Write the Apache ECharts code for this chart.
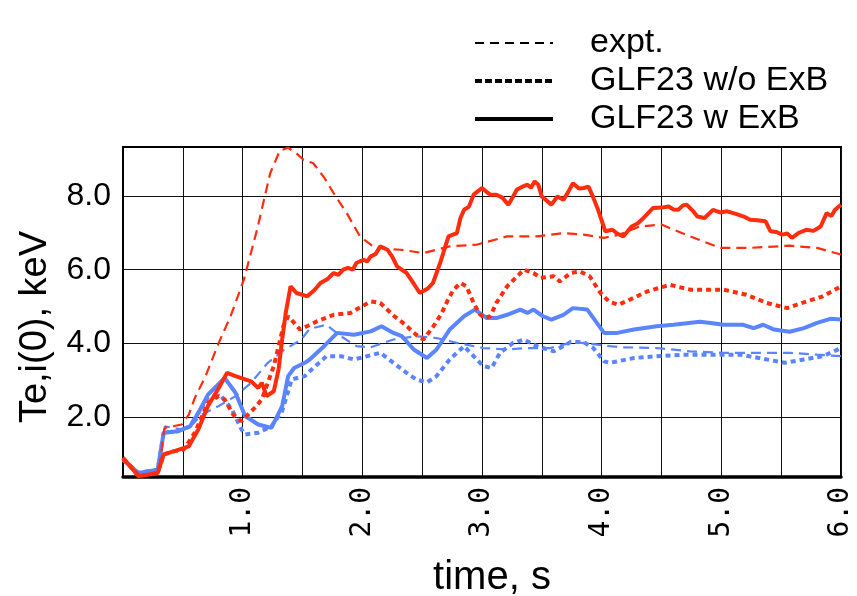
<!DOCTYPE html>
<html>
<head>
<meta charset="utf-8">
<script src="https://cdn.jsdelivr.net/npm/echarts@6/dist/echarts.min.js"></script>
<style>
  html, body { margin: 0; padding: 0; background: #fff; }
  #chart { width: 857px; height: 596px; }
</style>
</head>
<body>
<div id="chart"></div>
<script>
// Central temperatures vs time: [time (s), T (keV)]
// Electron temperature (red)
const teExpt = [[0,0.85],[0.1,0.55],[0.15,0.42],[0.3,0.5],[0.34,1.6],[0.35,1.72],[0.49,1.81],[0.55,2.08],[0.6,2.53],[0.69,3.12],[0.8,4.02],[0.9,4.75],[1.01,5.73],[1.12,7.08],[1.23,8.61],[1.31,9.22],[1.38,9.3],[1.45,9.15],[1.51,8.97],[1.59,8.88],[1.68,8.5],[1.76,8.07],[1.87,7.53],[1.98,6.9],[2.09,6.63],[2.2,6.56],[2.32,6.54],[2.51,6.45],[2.73,6.63],[2.96,6.68],[3.21,6.9],[3.46,6.9],[3.68,6.99],[3.85,6.95],[4.02,6.86],[4.15,6.95],[4.32,7.17],[4.5,7.22],[4.74,6.9],[4.99,6.59],[5.24,6.59],[5.57,6.65],[5.8,6.59],[6.0,6.41]];
const teNoExb = [[0,0.9],[0.13,0.42],[0.29,0.5],[0.34,1.0],[0.43,1.09],[0.51,1.14],[0.6,1.59],[0.71,2.4],[0.8,2.58],[0.85,2.49],[0.92,2.08],[0.99,1.9],[1.1,2.26],[1.16,2.49],[1.26,3.39],[1.34,4.47],[1.38,4.74],[1.48,4.38],[1.62,4.6],[1.76,4.78],[1.9,4.83],[2.07,5.14],[2.15,5.1],[2.26,4.76],[2.34,4.56],[2.45,4.24],[2.51,4.11],[2.59,4.45],[2.66,4.8],[2.71,5.15],[2.76,5.45],[2.82,5.64],[2.87,5.55],[2.93,5.1],[2.98,4.8],[3.02,4.69],[3.07,4.74],[3.12,5.1],[3.21,5.55],[3.35,6.0],[3.43,5.91],[3.49,5.78],[3.6,5.82],[3.65,5.68],[3.74,5.91],[3.82,5.95],[3.9,5.82],[3.99,5.37],[4.06,5.14],[4.14,5.05],[4.27,5.24],[4.38,5.41],[4.57,5.59],[4.74,5.46],[5.02,5.46],[5.21,5.32],[5.38,5.1],[5.55,4.96],[5.71,5.14],[5.85,5.28],[6.0,5.55]];
const teExb = [[0,0.91],[0.13,0.41],[0.29,0.5],[0.34,1.0],[0.43,1.09],[0.55,1.22],[0.63,1.68],[0.71,2.31],[0.8,2.8],[0.87,3.21],[0.94,3.12],[1.07,2.98],[1.13,2.8],[1.16,2.94],[1.2,2.58],[1.26,2.71],[1.3,3.3],[1.33,4.11],[1.36,4.83],[1.4,5.55],[1.45,5.37],[1.54,5.28],[1.6,5.45],[1.65,5.64],[1.71,5.75],[1.76,5.91],[1.8,5.86],[1.84,6.0],[1.88,6.05],[1.92,6.0],[1.95,6.18],[2.01,6.27],[2.04,6.22],[2.07,6.36],[2.11,6.42],[2.15,6.63],[2.21,6.54],[2.25,6.35],[2.29,6.09],[2.37,5.91],[2.43,5.62],[2.48,5.37],[2.55,5.5],[2.59,5.64],[2.65,6.18],[2.72,6.9],[2.79,6.99],[2.82,7.4],[2.85,7.62],[2.89,7.7],[2.93,8.03],[3.0,8.21],[3.04,8.1],[3.07,8.03],[3.12,8.03],[3.17,7.95],[3.22,7.76],[3.26,7.98],[3.29,8.16],[3.34,8.25],[3.38,8.3],[3.41,8.22],[3.44,8.39],[3.47,8.3],[3.5,7.98],[3.58,7.76],[3.63,7.98],[3.68,7.89],[3.72,8.1],[3.76,8.34],[3.81,8.2],[3.85,8.21],[3.89,8.25],[3.93,7.95],[3.97,7.62],[4.03,7.04],[4.09,7.08],[4.13,6.98],[4.18,6.9],[4.25,7.17],[4.3,7.25],[4.35,7.4],[4.43,7.67],[4.5,7.68],[4.56,7.71],[4.6,7.63],[4.64,7.62],[4.68,7.74],[4.71,7.76],[4.76,7.6],[4.8,7.44],[4.86,7.4],[4.93,7.62],[4.99,7.55],[5.05,7.58],[5.1,7.53],[5.14,7.49],[5.2,7.42],[5.24,7.35],[5.3,7.34],[5.37,7.31],[5.41,7.04],[5.46,7.02],[5.51,6.95],[5.55,6.98],[5.59,6.86],[5.65,7.0],[5.71,7.08],[5.77,7.05],[5.83,7.17],[5.88,7.53],[5.92,7.45],[5.95,7.62],[6.0,7.76]];
// Ion temperature (blue)
const tiExpt = [[0,0.85],[0.13,0.48],[0.29,0.56],[0.34,1.6],[0.35,1.76],[0.49,1.68],[0.55,1.72],[0.66,2.08],[0.8,2.31],[0.94,2.58],[1.07,2.94],[1.21,3.48],[1.35,3.84],[1.49,4.11],[1.56,4.4],[1.7,4.51],[1.82,4.2],[1.95,3.93],[2.07,3.9],[2.26,4.11],[2.45,4.2],[2.62,4.15],[2.79,4.02],[3.01,3.88],[3.21,3.84],[3.38,3.88],[3.57,3.88],[3.74,4.02],[3.85,4.02],[4.07,3.93],[4.18,3.9],[4.46,3.88],[4.74,3.79],[5.02,3.75],[5.3,3.75],[5.57,3.75],[5.8,3.7],[6.0,3.66]];
const tiNoExb = [[0,0.86],[0.13,0.5],[0.29,0.59],[0.34,1.59],[0.46,1.63],[0.56,1.76],[0.63,2.13],[0.71,2.55],[0.82,2.58],[0.91,2.22],[0.99,1.68],[1.02,1.54],[1.13,1.59],[1.24,1.76],[1.33,2.17],[1.41,3.03],[1.52,3.12],[1.56,3.25],[1.7,3.66],[1.82,3.66],[1.93,3.57],[2.04,3.66],[2.15,3.75],[2.26,3.48],[2.37,3.21],[2.45,3.03],[2.54,2.95],[2.62,3.12],[2.73,3.57],[2.85,3.93],[2.93,3.66],[3.01,3.39],[3.08,3.34],[3.15,3.75],[3.26,4.02],[3.35,4.11],[3.46,3.93],[3.6,3.79],[3.74,4.04],[3.85,4.04],[3.93,3.88],[4.02,3.52],[4.07,3.48],[4.27,3.61],[4.46,3.66],[4.68,3.7],[4.96,3.7],[5.16,3.7],[5.35,3.59],[5.53,3.48],[5.69,3.57],[5.85,3.66],[6.0,3.88]];
const tiExb = [[0,0.86],[0.13,0.5],[0.29,0.59],[0.34,1.59],[0.46,1.63],[0.56,1.76],[0.63,2.13],[0.71,2.62],[0.85,3.07],[0.94,2.67],[1.02,2.04],[1.13,1.81],[1.24,1.72],[1.33,2.31],[1.38,3.12],[1.43,3.34],[1.52,3.48],[1.56,3.57],[1.68,3.93],[1.79,4.29],[1.93,4.24],[2.07,4.33],[2.16,4.47],[2.26,4.29],[2.33,4.2],[2.43,3.84],[2.54,3.61],[2.62,3.84],[2.73,4.38],[2.85,4.74],[2.94,4.92],[3.04,4.69],[3.12,4.69],[3.21,4.78],[3.32,4.92],[3.38,4.83],[3.43,4.92],[3.51,4.74],[3.58,4.65],[3.68,4.78],[3.76,4.96],[3.88,4.92],[3.96,4.56],[4.02,4.29],[4.13,4.29],[4.27,4.38],[4.46,4.47],[4.6,4.51],[4.82,4.59],[4.91,4.56],[5.02,4.51],[5.18,4.51],[5.27,4.42],[5.35,4.51],[5.44,4.38],[5.57,4.32],[5.69,4.42],[5.8,4.56],[5.91,4.67],[6.0,4.65]];

const yTicks = [2, 4, 6, 8];
const xLabelTicks = [1, 2, 3, 4, 5, 6];
const legendNames = ['expt.', 'GLF23 w/o ExB', 'GLF23 w ExB'];

const RED = '#ff2d0d';
const BLUE = '#5a85ff';
const DASHED = { width: 2.2, type: [10, 6] };
const DOTTED = { width: 4, type: [5, 4] };
const SOLID = { width: 4, type: 'solid' };
// black key samples shown next to the legend texts
const KEY_STYLES = [
  { width: 2, type: [9, 6] },
  { width: 4, type: [7, 3] },
  { width: 4, type: 'solid' }
];

function curve(name, data, color, style) {
  return {
    name, type: 'line', data, symbol: 'none', sampling: 'none',
    lineStyle: Object.assign({ color }, style),
    silent: true, z: 3
  };
}
function legendSeries(name, style) {
  return {
    name, type: 'line', data: [], symbol: 'none',
    lineStyle: Object.assign({ color: '#000' }, style),
    itemStyle: { color: '#000' }
  };
}

const chart = echarts.init(document.getElementById('chart'));
chart.setOption({
  animation: false,
  backgroundColor: '#fff',
  grid: {
    left: 123, right: 16, top: 147, bottom: 119,
    outerBoundsMode: 'none', containLabel: false,
    show: true, borderColor: '#000', borderWidth: 2, backgroundColor: 'transparent'
  },
  legend: {
    data: legendNames.map((name, i) => ({
      name,
      lineStyle: Object.assign({ color: '#000' }, KEY_STYLES[i])
    })),
    orient: 'vertical',
    left: 473, top: 26, padding: 0,
    itemWidth: 78, itemHeight: 14, itemGap: 4,
    selectedMode: false,
    itemStyle: { opacity: 0 },
    textStyle: { fontFamily: 'Liberation Sans', fontSize: 34, color: '#000', padding: [0, 0, 0, 32] }
  },
  xAxis: {
    type: 'value', min: 0, max: 6, interval: 0.5,
    name: 'time, s', nameLocation: 'middle', nameGap: 81,
    nameTextStyle: { fontFamily: 'Liberation Sans', fontSize: 40, color: '#000', padding: [0, 0, 0, 20] },
    axisLine: { show: true, lineStyle: { color: '#000', width: 3.5 } },
    axisTick: { show: false },
    splitLine: { show: true, lineStyle: { color: '#111', width: 1 } },
    axisLabel: {
      rotate: 90, margin: 10, padding: [14, 0, 0, 0],
      fontFamily: 'DejaVu Sans Mono', fontSize: 28, color: '#000',
      formatter: v => xLabelTicks.includes(v) ? v.toFixed(1) : ''
    }
  },
  yAxis: {
    type: 'value', min: 0.39, max: 9.32,
    name: 'Te,i(0), keV', nameLocation: 'middle', nameGap: 68,
    nameTextStyle: { fontFamily: 'Liberation Sans', fontSize: 38, color: '#000', padding: [0, 30, 0, 0] },
    axisLine: { show: true, lineStyle: { color: '#000', width: 2 } },
    axisTick: { show: false, customValues: yTicks },
    splitLine: { show: true, lineStyle: { color: '#111', width: 1 } },
    axisLabel: {
      customValues: yTicks, margin: 12,
      fontFamily: 'Liberation Sans', fontSize: 32, color: '#000',
      formatter: v => v.toFixed(1)
    }
  },
  series: [
    legendSeries(legendNames[0], DASHED),
    legendSeries(legendNames[1], DOTTED),
    legendSeries(legendNames[2], SOLID),
    curve('Ti expt', tiExpt, BLUE, DASHED),
    curve('Ti no ExB', tiNoExb, BLUE, DOTTED),
    curve('Ti ExB', tiExb, BLUE, SOLID),
    curve('Te expt', teExpt, RED, DASHED),
    curve('Te no ExB', teNoExb, RED, DOTTED),
    curve('Te ExB', teExb, RED, SOLID)
  ]
});
</script>
</body>
</html>
